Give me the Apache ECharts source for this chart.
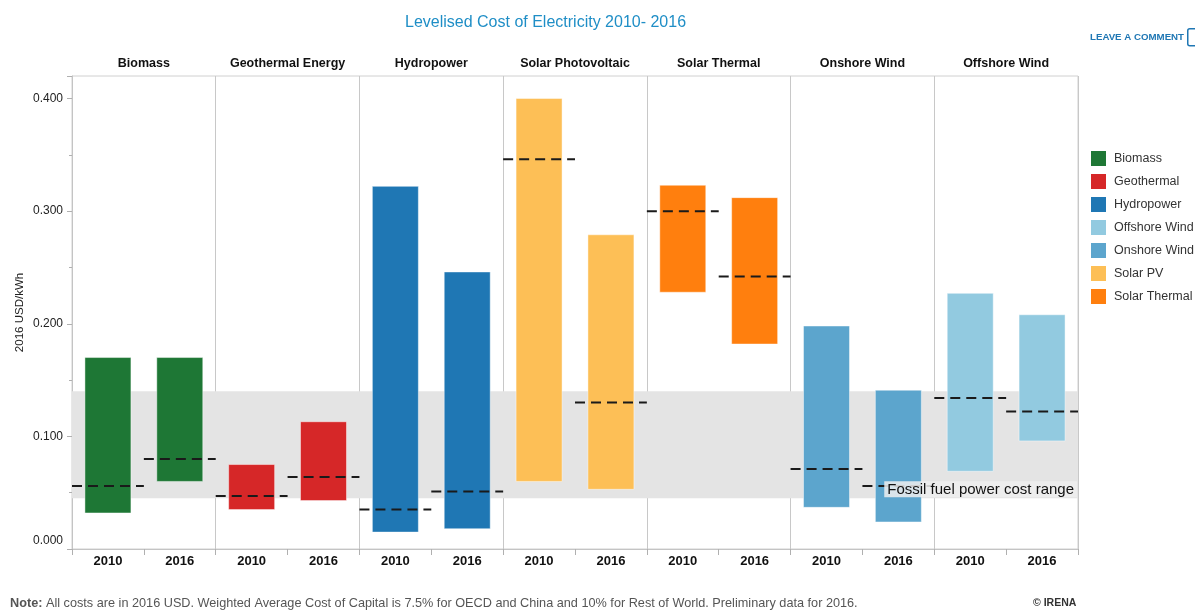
<!DOCTYPE html>
<html>
<head>
<meta charset="utf-8">
<script src="https://cdn.jsdelivr.net/npm/echarts@6/dist/echarts.min.js"></script>
<style>
html,body{margin:0;padding:0;background:#fff;}
#chart{width:1195px;height:611px;}
</style>
</head>
<body>
<div id="chart"></div>
<script>
// ---- data ----
const panels = ['Biomass', 'Geothermal Energy', 'Hydropower', 'Solar Photovoltaic', 'Solar Thermal', 'Onshore Wind', 'Offshore Wind'];
const seriesNames = ['Biomass', 'Geothermal', 'Hydropower', 'Solar PV', 'Solar Thermal', 'Onshore Wind', 'Offshore Wind'];
const legendOrder = ['Biomass', 'Geothermal', 'Hydropower', 'Offshore Wind', 'Onshore Wind', 'Solar PV', 'Solar Thermal'];
const years = ['2010', '2016'];
const low2010  = [0.032, 0.035, 0.015, 0.060, 0.228, 0.037, 0.069];
const high2010 = [0.170, 0.075, 0.322, 0.400, 0.323, 0.198, 0.227];
const avg2010  = [0.056, 0.047, 0.035, 0.346, 0.300, 0.071, 0.134];
const low2016  = [0.060, 0.043, 0.018, 0.053, 0.182, 0.024, 0.096];
const high2016 = [0.170, 0.113, 0.246, 0.279, 0.312, 0.141, 0.208];
const avg2016  = [0.080, 0.064, 0.051, 0.130, 0.242, 0.056, 0.122];
const fossilRange = [0.045, 0.140];
const yTicks = [0, 0.1, 0.2, 0.3, 0.4];
const colors = ['#1e7735', '#d62728', '#1f77b4', '#fdbf56', '#ff7f0e', '#5ca5cd', '#92cae0'];

const FONT = '"Liberation Sans", Arial, sans-serif';

// categories: one per panel-year
const cats = [];
panels.forEach(p => years.forEach(y => cats.push(p + '|' + y)));

function barItem(ci, yi, lo, hi, av) {
  return [ci * 2 + yi, lo, hi, av];
}

const barSeries = seriesNames.map((name, i) => ({
  name: name,
  type: 'custom',
  xAxisIndex: 0,
  yAxisIndex: 0,
  z: 3,
  itemStyle: { color: colors[i] },
  data: [barItem(i, 0, low2010[i], high2010[i], avg2010[i]), barItem(i, 1, low2016[i], high2016[i], avg2016[i])],
  renderItem: function (params, api) {
    const x = api.value(0);
    const pHi = api.coord([x, api.value(2)]);
    const pLo = api.coord([x, api.value(1)]);
    const bw = api.size([1, 0])[0];
    const w = bw * 0.64;
    return {
      type: 'rect',
      shape: { x: pHi[0] - w / 2, y: pHi[1], width: w, height: pLo[1] - pHi[1] },
      style: { fill: colors[i], stroke: 'rgba(255,255,255,0.45)', lineWidth: 1 }
    };
  }
}));

const avgData = [];
panels.forEach((p, i) => {
  avgData.push([i * 2, avg2010[i]]);
  avgData.push([i * 2 + 1, avg2016[i]]);
});

const avgSeries = {
  name: 'avg',
  type: 'custom',
  z: 5,
  data: avgData,
  renderItem: function (params, api) {
    const x = api.value(0);
    const p = api.coord([x, api.value(1)]);
    const bw = api.size([1, 0])[0];
    return {
      type: 'line',
      shape: { x1: p[0] - bw / 2, y1: p[1], x2: p[0] + bw / 2, y2: p[1] },
      style: { stroke: '#1a1a1a', lineWidth: 2, lineDash: [10, 6] }
    };
  }
};

const bandSeries = {
  name: 'fossil',
  type: 'line',
  data: [],
  z: 1,
  silent: true,
  markArea: {
    silent: true,
    z: 1,
    itemStyle: { color: '#e4e4e4' },
    label: { show: false },
    data: [[{ yAxis: fossilRange[0] }, { yAxis: fossilRange[1] }]]
  }
};
const bandLabelSeries = {
  name: 'fossilLabel',
  type: 'line',
  data: [],
  z: 10,
  silent: true,
  markArea: {
    silent: true,
    z: 10,
    itemStyle: { color: 'rgba(0,0,0,0)' },
    label: {
      show: true,
      position: 'insideBottomRight',
      distance: 1,
      formatter: 'Fossil fuel power cost range',
      fontFamily: FONT,
      fontSize: 15,
      color: '#111',
      backgroundColor: 'rgba(238,238,238,0.85)',
      padding: [1, 3, 0, 3]
    },
    data: [[{ yAxis: fossilRange[0] }, { yAxis: fossilRange[1] }]]
  }
};

const option = {
  animation: false,
  backgroundColor: '#fff',
  title: {
    text: 'Levelised Cost of Electricity 2010- 2016',
    left: 400,
    top: 10,
    textStyle: { fontFamily: FONT, fontSize: 16, fontWeight: 'normal', color: '#1f8ec6' }
  },
  legend: {
    orient: 'vertical',
    left: 1091,
    top: 151,
    padding: 0,
    itemWidth: 15,
    itemHeight: 15,
    itemGap: 8,
    icon: 'rect',
    data: legendOrder,
    textStyle: { fontFamily: FONT, fontSize: 12.5, color: '#333', padding: [0, 0, 0, 3] }
  },
  grid: {
    left: 72, right: 117, top: 76, bottom: 62,
    show: true, borderColor: '#d0d0d0', borderWidth: 1
  },
  xAxis: [
    {
      type: 'category',
      data: cats,
      position: 'bottom',
      boundaryGap: true,
      axisLine: { show: true, lineStyle: { color: '#c4c4c4', width: 1 } },
      axisTick: { show: true, interval: 0, length: 6, lineStyle: { color: '#b0b0b0' } },
      axisLabel: {
        interval: 0,
        margin: 6,
        formatter: v => v.split('|')[1],
        fontFamily: FONT, fontSize: 13, fontWeight: 'bold', color: '#111'
      },
      splitLine: { show: false }
    },
    {
      type: 'category',
      data: panels,
      position: 'top',
      boundaryGap: true,
      axisLine: { show: false },
      axisTick: { show: false },
      axisLabel: {
        interval: 0,
        margin: 6,
        fontFamily: FONT, fontSize: 12.5, fontWeight: 'bold', color: '#111'
      },
      splitLine: { show: true, interval: 0, lineStyle: { color: '#c8c8c8', width: 1 } }
    }
  ],
  yAxis: {
    type: 'value',
    min: 0,
    max: 0.42,
    interval: 0.1,
    name: '2016 USD/kWh',
    nameLocation: 'middle',
    nameGap: 46,
    nameMoveOverlap: false,
    nameTextStyle: { fontFamily: FONT, fontSize: 11.5, color: '#222' },
    axisLine: { show: true, lineStyle: { color: '#c4c4c4' } },
    axisTick: { show: true, length: 5, lineStyle: { color: '#b0b0b0' } },
    minorTick: { show: true, splitNumber: 2, length: 3, lineStyle: { color: '#b0b0b0' } },
    splitLine: { show: false },
    axisLabel: {
      showMaxLabel: false,
      margin: 9,
      fontFamily: FONT, fontSize: 12, color: '#222',
      formatter: function (v) {
        if (yTicks.indexOf(Math.round(v * 1000) / 1000) < 0) return '';
        const s = v.toFixed(3);
        return v === 0 ? '{z|' + s + '}' : s;
      },
      rich: { z: { fontFamily: FONT, fontSize: 12, color: '#222', padding: [0, 0, 16, 0] } }
    }
  },
  series: [bandSeries].concat(barSeries, [avgSeries, bandLabelSeries]),
  graphic: [
    {
      type: 'text', left: 1090, top: 32,
      style: { text: 'LEAVE A COMMENT', fontFamily: FONT, fontSize: 9.7, fontWeight: 'bold', fill: '#1f77b4' }
    },
    {
      type: 'rect', left: 1187, top: 28,
      shape: { width: 10, height: 17, r: 2 },
      style: { fill: '#fff', stroke: '#1f77b4', lineWidth: 1.5 }
    },
    {
      type: 'text', left: 10, top: 597,
      style: {
        text: '{b|Note:} All costs are in 2016 USD. Weighted Average Cost of Capital is 7.5% for OECD and China and 10% for Rest of World. Preliminary data for 2016.',
        fontFamily: FONT, fontSize: 12.7, fill: '#555',
        rich: { b: { fontFamily: FONT, fontSize: 12.7, fontWeight: 'bold', fill: '#555' } }
      }
    },
    {
      type: 'text', left: 1033, top: 598,
      style: { text: '© IRENA', fontFamily: FONT, fontSize: 10.5, fontWeight: 'bold', fill: '#333' }
    }
  ]
};

const chart = echarts.init(document.getElementById('chart'), null, { renderer: 'canvas' });
chart.setOption(option);
</script>
</body>
</html>
